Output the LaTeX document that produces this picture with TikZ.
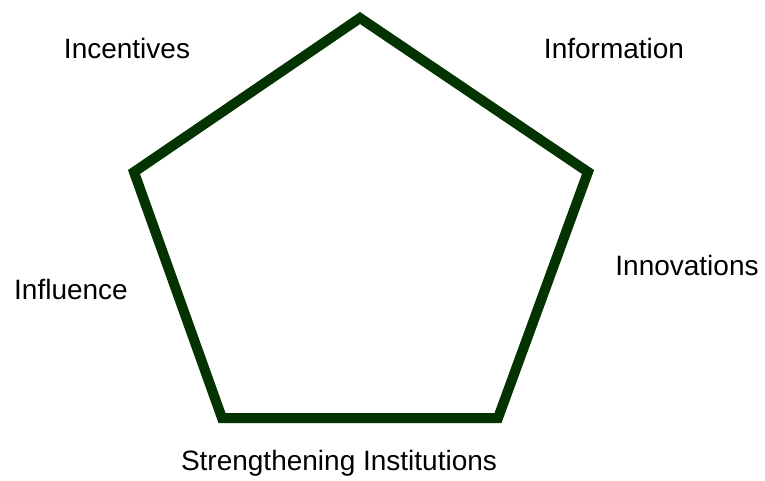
\documentclass[tikz,border=0pt]{standalone}
\usepackage{fontspec}
\setmainfont{Liberation Sans}

\definecolor{rimgreen}{RGB}{3,51,0}
\tikzstyle{tag} = [inner sep=0pt, font=\fontsize{28}{34}\selectfont]
\tikzstyle{rim} = [draw=rimgreen, line width=10pt, line join=miter]

\begin{document}
\begin{tikzpicture}[x=1pt, y=-1pt]
\useasboundingbox (0,0) rectangle (765,480);
% corners of the pentagon
\coordinate (top) at (360,18);
\coordinate (right) at (588,172);
\coordinate (lowright) at (498,418);
\coordinate (lowleft) at (222,418);
\coordinate (left) at (134,172);
\draw[rim] (top) -- (right) -- (lowright) -- (lowleft) -- (left) -- cycle;
% labels
\node[tag] (incentives) at (127,48) {Incentives};
\node[tag] (information) at (614,48) {Information};
\node[tag] (innovations) at (687,265) {Innovations};
\node[tag] (influence) at (71,289) {Influence};
\node[tag] (institutions) at (339,463) {Strengthening Institutions};
\end{tikzpicture}
\end{document}
